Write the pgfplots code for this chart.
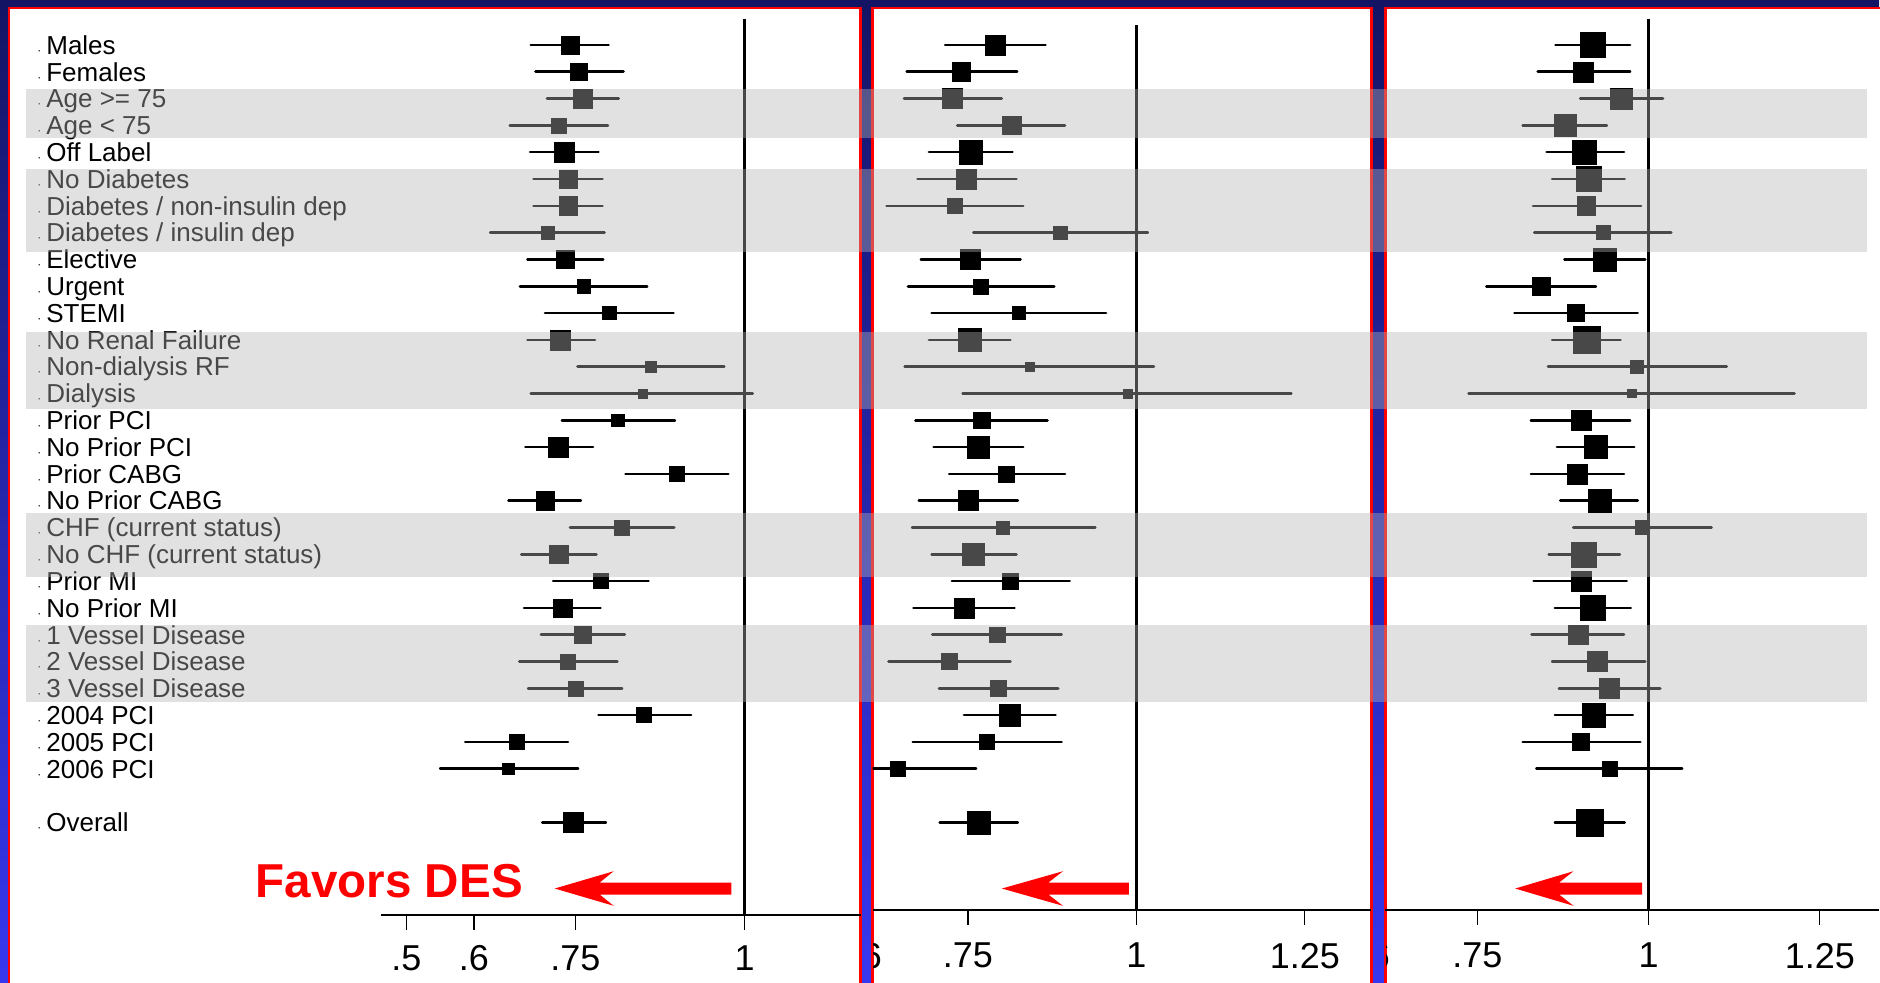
\documentclass[border=0pt]{standalone}
\usepackage{fontspec}
\setmainfont{Liberation Sans}
\usepackage{pgfplots}
\pgfplotsset{compat=1.18}
\usepackage{pgfplotstable}

\definecolor{navyA}{RGB}{20,20,100}
\definecolor{navyB}{RGB}{55,55,240}
\definecolor{bandc}{RGB}{182,182,182}

% row  est  lo  hi  s(mark size, pt)
\pgfplotstableread{
row est lo hi s
0 0.742 0.684 0.799 4.6
1 0.755 0.691 0.821 4.2
2 0.761 0.708 0.814 4.6
3 0.725 0.653 0.798 3.75
4 0.733 0.683 0.784 5.0
5 0.739 0.688 0.790 4.6
6 0.739 0.688 0.790 4.6
7 0.709 0.624 0.793 3.2
8 0.735 0.679 0.791 4.6
9 0.762 0.668 0.856 3.3
10 0.800 0.705 0.895 3.3
11 0.728 0.679 0.779 5.0
12 0.861 0.753 0.970 2.7
13 0.849 0.684 1.012 2.3
14 0.813 0.730 0.897 3.2
15 0.725 0.676 0.776 5.0
16 0.900 0.824 0.976 3.75
17 0.705 0.651 0.758 4.6
18 0.819 0.742 0.896 3.75
19 0.725 0.670 0.781 4.6
20 0.787 0.717 0.858 3.75
21 0.731 0.674 0.787 4.6
22 0.761 0.699 0.823 4.2
23 0.739 0.667 0.812 3.75
24 0.750 0.680 0.819 3.75
25 0.851 0.784 0.921 3.75
26 0.663 0.587 0.739 3.75
27 0.651 0.550 0.754 2.9
29 0.747 0.701 0.795 5.0
}\tblA

\pgfplotstableread{
row est lo hi s
0 0.790 0.716 0.865 5.0
1 0.740 0.659 0.823 4.6
2 0.727 0.655 0.800 5.0
3 0.815 0.734 0.894 4.6
4 0.754 0.692 0.816 5.8
5 0.748 0.675 0.822 5.0
6 0.730 0.629 0.832 3.75
7 0.887 0.758 1.017 3.3
8 0.754 0.680 0.828 5.0
9 0.769 0.661 0.878 3.75
10 0.825 0.696 0.955 3.3
11 0.753 0.692 0.813 5.8
12 0.841 0.656 1.026 2.3
13 0.987 0.742 1.230 2.3
14 0.770 0.672 0.868 4.2
15 0.765 0.699 0.832 5.4
16 0.807 0.722 0.894 4.0
17 0.750 0.677 0.824 5.0
18 0.802 0.667 0.939 3.2
19 0.758 0.696 0.822 5.4
20 0.813 0.726 0.901 4.0
21 0.744 0.669 0.819 5.0
22 0.793 0.697 0.889 4.0
23 0.722 0.632 0.813 4.0
24 0.795 0.707 0.884 4.0
25 0.812 0.744 0.880 5.4
26 0.778 0.668 0.889 3.75
27 0.646 0.540 0.762 3.75
29 0.766 0.708 0.824 5.8
}\tblB

\pgfplotstableread{
row est lo hi s
0 0.918 0.864 0.973 6.25
1 0.905 0.838 0.973 5.0
2 0.960 0.900 1.021 5.4
3 0.878 0.816 0.939 5.4
4 0.906 0.851 0.964 5.8
5 0.912 0.859 0.965 6.25
6 0.909 0.831 0.989 4.6
7 0.933 0.833 1.033 3.5
8 0.936 0.877 0.995 5.8
9 0.843 0.763 0.923 4.6
10 0.894 0.804 0.984 4.2
11 0.909 0.859 0.959 6.8
12 0.983 0.853 1.114 3.2
13 0.975 0.737 1.213 2.1
14 0.901 0.828 0.973 5.0
15 0.923 0.866 0.979 5.8
16 0.895 0.828 0.964 5.0
17 0.928 0.871 0.984 5.8
18 0.991 0.890 1.092 3.5
19 0.905 0.854 0.958 6.25
20 0.901 0.832 0.968 5.0
21 0.918 0.863 0.974 6.25
22 0.897 0.829 0.964 5.0
23 0.925 0.859 0.995 5.0
24 0.943 0.869 1.017 5.0
25 0.920 0.863 0.977 5.8
26 0.901 0.816 0.988 4.2
27 0.943 0.836 1.049 3.75
29 0.914 0.863 0.965 6.7
}\tblC

\pgfplotsset{
  panel/.style={
    scale only axis,
    anchor=north west,
    axis x line*=bottom,
    axis y line=none,
    axis line style={-, line width=1pt, black},
    xtick style={black, line width=0.6pt},
    major tick length=7.5pt,
    tick align=outside,
    ytick=\empty,
    xticklabel style={font=\fontsize{18}{20}\selectfont},
    ymax=1.6778,
  },
  cis/.style={only marks, mark=none,
    error bars/.cd, x dir=both, x explicit, error mark=none,
    error bar style={line width=1.3pt, black, line cap=round}},
  pts/.style={scatter, only marks, mark=square*,
    scatter/use mapped color={draw=black, fill=black},
    mark options={rounded corners=1.2pt, line width=0.2pt},
    visualization depends on={\thisrow{s} \as \perpointmarksize},
    scatter/@pre marker code/.append style={/tikz/mark size=\perpointmarksize}},
}

\newcommand{\lab}[2]{\node[anchor=base west, inner sep=0pt, yshift=-4.65pt,
  font=\fontsize{13}{15}\selectfont] at (axis cs:-0.0325,-#1)
  {\makebox[0pt][r]{\fontsize{6}{6}\selectfont\textperiodcentered\hspace{2.5pt}}#2};}

\begin{document}
\begin{tikzpicture}
\begin{scope}[x=0.5pt,y=-0.5pt]
  \useasboundingbox (0,0) rectangle (1880,983);
  \shade[top color=navyA, bottom color=navyB] (0,0) rectangle (1880,983);
  \fill[white] (9,8) rectangle (861,995);
  \draw[red, line width=1.25pt] (9,995) -- (9,8) -- (861,8) -- (861,995);
  \fill[white] (873,8) rectangle (1372,995);
  \draw[red, line width=1.25pt] (873,995) -- (873,8) -- (1372,8) -- (1372,995);
  \fill[white] (1386,8) rectangle (1890,995);
  \draw[red, line width=1.25pt] (1386,995) -- (1386,8) -- (1890,8);
\end{scope}

% ---------- Panel 1 ----------
\begin{axis}[panel, at={(190.5pt,0pt)}, width=240pt, height=457.5pt,
  xmin=0.46233, xmax=1.17134, ymin=-32.438, clip=false,
  xticklabel style={yshift=-4.5pt},
  xtick={0.5,0.6,0.75,1}, xticklabels={.5,.6,.75,1}]
  \addplot[black, line width=1.5pt] coordinates {(1,0.97) (1,-32.438)};
  \addplot[cis] table[x=est, y expr=-\thisrow{row},
    x error plus expr=\thisrow{hi}-\thisrow{est},
    x error minus expr=\thisrow{est}-\thisrow{lo}] {\tblA};
  \addplot[pts] table[x=est, y expr=-\thisrow{row}] {\tblA};
  \lab{0}{Males}
  \lab{1}{Females}
  \lab{2}{Age >= 75}
  \lab{3}{Age < 75}
  \lab{4}{Off Label}
  \lab{5}{No Diabetes}
  \lab{6}{Diabetes / non-insulin dep}
  \lab{7}{Diabetes / insulin dep}
  \lab{8}{Elective}
  \lab{9}{Urgent}
  \lab{10}{STEMI}
  \lab{11}{No Renal Failure}
  \lab{12}{Non-dialysis RF}
  \lab{13}{Dialysis}
  \lab{14}{Prior PCI}
  \lab{15}{No Prior PCI}
  \lab{16}{Prior CABG}
  \lab{17}{No Prior CABG}
  \lab{18}{CHF (current status)}
  \lab{19}{No CHF (current status)}
  \lab{20}{Prior MI}
  \lab{21}{No Prior MI}
  \lab{22}{1 Vessel Disease}
  \lab{23}{2 Vessel Disease}
  \lab{24}{3 Vessel Disease}
  \lab{25}{2004 PCI}
  \lab{26}{2005 PCI}
  \lab{27}{2006 PCI}
  \lab{29}{Overall}
\end{axis}

% ---------- Panel 2 ----------
\begin{axis}[panel, at={(436.5pt,0pt)}, width=249.5pt, height=455pt,
  xmin=0.60831, xmax=1.34866, ymin=-32.252,
  xticklabel style={yshift=-5.7pt},
  xtick={0.75,1,1.25}, xticklabels={.75,1,1.25}]
  \addplot[black, line width=1.5pt] coordinates {(1,0.75) (1,-32.252)};
  \addplot[cis] table[x=est, y expr=-\thisrow{row},
    x error plus expr=\thisrow{hi}-\thisrow{est},
    x error minus expr=\thisrow{est}-\thisrow{lo}] {\tblB};
  \addplot[pts] table[x=est, y expr=-\thisrow{row}] {\tblB};
\end{axis}

% ---------- Panel 3 ----------
\begin{axis}[panel, at={(693pt,0pt)}, width=247pt, height=455pt,
  xmin=0.61533, xmax=1.33650, ymin=-32.252,
  xticklabel style={yshift=-5.7pt},
  xtick={0.75,1,1.25}, xticklabels={.75,1,1.25}]
  \addplot[black, line width=1.5pt] coordinates {(1,0.97) (1,-32.252)};
  \addplot[cis] table[x=est, y expr=-\thisrow{row},
    x error plus expr=\thisrow{hi}-\thisrow{est},
    x error minus expr=\thisrow{est}-\thisrow{lo}] {\tblC};
  \addplot[pts] table[x=est, y expr=-\thisrow{row}] {\tblC};
\end{axis}

\begin{scope}[x=0.5pt,y=-0.5pt]
  % partially hidden ".6" labels at the left edge of panels 2 and 3
  \begin{scope}
    \clip (874,915) rectangle (1372,983);
    \node[anchor=base, inner sep=0pt, font=\fontsize{18}{20}\selectfont] at (867.4,969) {.6};
  \end{scope}
  \begin{scope}
    \clip (1387,915) rectangle (1880,983);
    \node[anchor=base, inner sep=0pt, font=\fontsize{18}{20}\selectfont] at (1375.5,969) {.6};
  \end{scope}
  % arrows
  \fill[red] (731.7,883) -- (600,883) -- (614,871.7) -- (555,889) -- (614,906.3) -- (600,895) -- (731.7,895) -- cycle;
  \fill[red] (1129.5,883) -- (1049,883) -- (1063.5,871.7) -- (1002.4,889) -- (1063.5,906.3) -- (1049,895) -- (1129.5,895) -- cycle;
  \fill[red] (1643,883) -- (1560,883) -- (1574.3,871.7) -- (1516,889) -- (1574.3,906.3) -- (1560,895) -- (1643,895) -- cycle;
  \node[anchor=base west, inner sep=0pt, text=red,
    font=\bfseries\fontsize{23.8}{25}\selectfont] at (255.5,898) {Favors DES};
  % shaded bands (overlay)
  \fill[bandc, fill opacity=0.40] (26,89) rectangle (1868,137.7);
  \fill[bandc, fill opacity=0.40] (26,169) rectangle (1868,252.3);
  \fill[bandc, fill opacity=0.40] (26,332.3) rectangle (1868,409.3);
  \fill[bandc, fill opacity=0.40] (26,513.3) rectangle (1868,577.3);
  \fill[bandc, fill opacity=0.40] (26,625) rectangle (1868,702.7);
\end{scope}
\end{tikzpicture}
\end{document}
